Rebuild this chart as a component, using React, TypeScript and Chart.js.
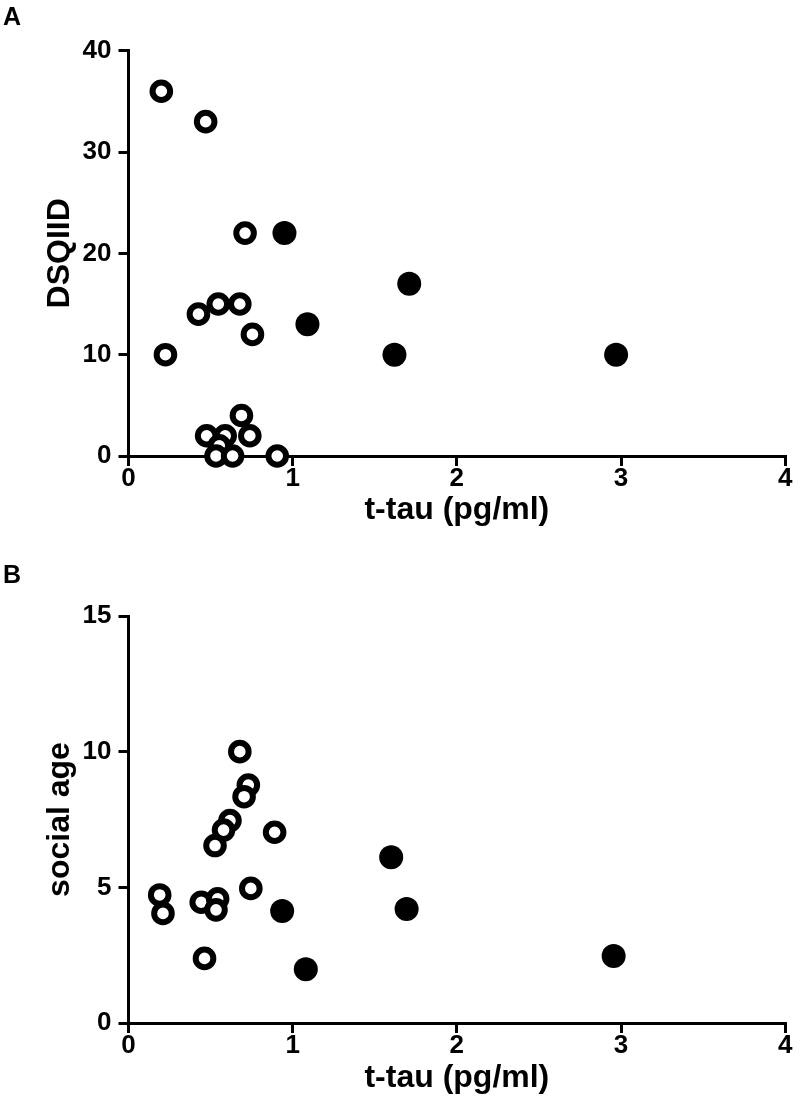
import React, { useEffect, useRef } from "react";
import { Chart, registerables } from "chart.js";

Chart.register(...registerables);

// Panel A: DSQIID vs t-tau
const aOpenX = [0.2, 0.47, 0.71, 0.547, 0.678, 0.426, 0.755, 0.225, 0.688, 0.476, 0.589, 0.739, 0.553, 0.533, 0.634, 0.906];
const aOpenY = [36, 33, 22, 15, 15, 14, 12, 10, 4, 2, 2, 2, 1, 0, 0, 0];
const aFilledX = [0.95, 1.09, 1.62, 1.71, 2.97];
const aFilledY = [22, 13, 10, 17, 10];

// Panel B: social age vs t-tau
const bOpenX = [0.678, 0.73, 0.704, 0.618, 0.579, 0.527, 0.89, 0.745, 0.19, 0.21, 0.443, 0.543, 0.533, 0.463];
const bOpenY = [10.0, 8.77, 8.34, 7.46, 7.11, 6.54, 7.03, 4.96, 4.72, 4.04, 4.45, 4.58, 4.17, 2.38];
const bFilledX = [0.936, 1.08, 1.6, 1.694, 2.955];
const bFilledY = [4.13, 1.98, 6.11, 4.2, 2.47];

const xTicks = [0, 1, 2, 3, 4];
const aYTicks = [0, 10, 20, 30, 40];
const bYTicks = [0, 5, 10, 15];

const FONT = "'Liberation Sans', Arial, Helvetica, sans-serif";

type PanelCfg = {
  letter: string;
  openX: number[];
  openY: number[];
  filledX: number[];
  filledY: number[];
  yTicks: number[];
  yTitle: string;
  top: number;
  xAxisHeight: number;
  xTitlePad: number;
};

const panels: PanelCfg[] = [
  { letter: "A", openX: aOpenX, openY: aOpenY, filledX: aFilledX, filledY: aFilledY, yTicks: aYTicks, yTitle: "DSQIID", top: 50.7, xAxisHeight: 102, xTitlePad: 29 },
  { letter: "B", openX: bOpenX, openY: bOpenY, filledX: bFilledX, filledY: bFilledY, yTicks: bYTicks, yTitle: "social age", top: 58, xAxisHeight: 93, xTitlePad: 19 },
];

function Panel({ cfg }: { cfg: PanelCfg }) {
  const ref = useRef<HTMLCanvasElement | null>(null);
  useEffect(() => {
    if (!ref.current) return;
    const letterPlugin = {
      id: "letter",
      afterDraw(chart: any) {
        const ctx = chart.ctx;
        ctx.save();
        ctx.fillStyle = "#000";
        ctx.font = `bold 25px ${FONT}`;
        ctx.textAlign = "left";
        ctx.textBaseline = "alphabetic";
        ctx.fillText(cfg.letter, 3, 25);
        ctx.restore();
      },
    };
    const yMin = cfg.yTicks[0];
    const yMax = cfg.yTicks[cfg.yTicks.length - 1];
    const chart = new Chart(ref.current, {
      type: "scatter",
      data: {
        datasets: [
          {
            label: "filled",
            data: cfg.filledX.map((x, i) => ({ x, y: cfg.filledY[i] })),
            pointStyle: "circle",
            pointRadius: 12,
            pointBackgroundColor: "#000",
            pointBorderColor: "#000",
            pointBorderWidth: 0,
            clip: false as any,
          },
          {
            label: "open",
            data: cfg.openX.map((x, i) => ({ x, y: cfg.openY[i] })),
            pointStyle: "circle",
            pointRadius: 8.8,
            pointBackgroundColor: "#fff",
            pointBorderColor: "#000",
            pointBorderWidth: 6,
            clip: false as any,
          },
        ],
      },
      options: {
        animation: false,
        responsive: false,
        maintainAspectRatio: false,
        layout: { padding: { left: 0, right: 0, top: cfg.top, bottom: 0 } },
        plugins: { legend: { display: false }, tooltip: { enabled: false } },
        scales: {
          x: {
            type: "linear",
            min: xTicks[0],
            max: xTicks[xTicks.length - 1],
            afterBuildTicks: (s: any) => {
              s.ticks = xTicks.map((v) => ({ value: v }));
            },
            afterFit: (s: any) => {
              s.height = cfg.xAxisHeight;
            },
            border: { display: true, color: "#000", width: 3 },
            grid: { drawOnChartArea: false, drawTicks: true, tickLength: 10, tickWidth: 3, tickColor: "#000", color: "#000", lineWidth: 3 },
            ticks: { color: "#000", font: { family: FONT, size: 26, weight: "bold" }, padding: -3, maxRotation: 0 },
            title: { display: true, text: "t-tau (pg/ml)", color: "#000", font: { family: FONT, size: 32, weight: "bold" }, padding: { top: 0, bottom: cfg.xTitlePad } },
          },
          y: {
            type: "linear",
            min: yMin,
            max: yMax,
            afterBuildTicks: (s: any) => {
              s.ticks = cfg.yTicks.map((v) => ({ value: v }));
            },
            afterFit: (s: any) => {
              s.width = 128.5;
            },
            border: { display: true, color: "#000", width: 3 },
            grid: { drawOnChartArea: false, drawTicks: true, tickLength: 10, tickWidth: 3, tickColor: "#000", color: "#000", lineWidth: 3 },
            ticks: { color: "#000", font: { family: FONT, size: 26, weight: "bold" }, padding: 7 },
            title: { display: true, text: cfg.yTitle, color: "#000", font: { family: FONT, size: 32, weight: "bold" }, padding: { top: 41, bottom: 0 } },
          },
        },
      },
      plugins: [letterPlugin],
    } as any);
    return () => chart.destroy();
  }, [cfg]);
  return <canvas ref={ref} width={800} height={558} style={{ display: "block", width: 800, height: 558 }} />;
}

export default function App() {
  return (
    <div style={{ position: "absolute", left: 0, top: 0, width: 800, height: 1116, background: "#fff" }}>
      {panels.map((p) => (
        <Panel key={p.letter} cfg={p} />
      ))}
    </div>
  );
}
